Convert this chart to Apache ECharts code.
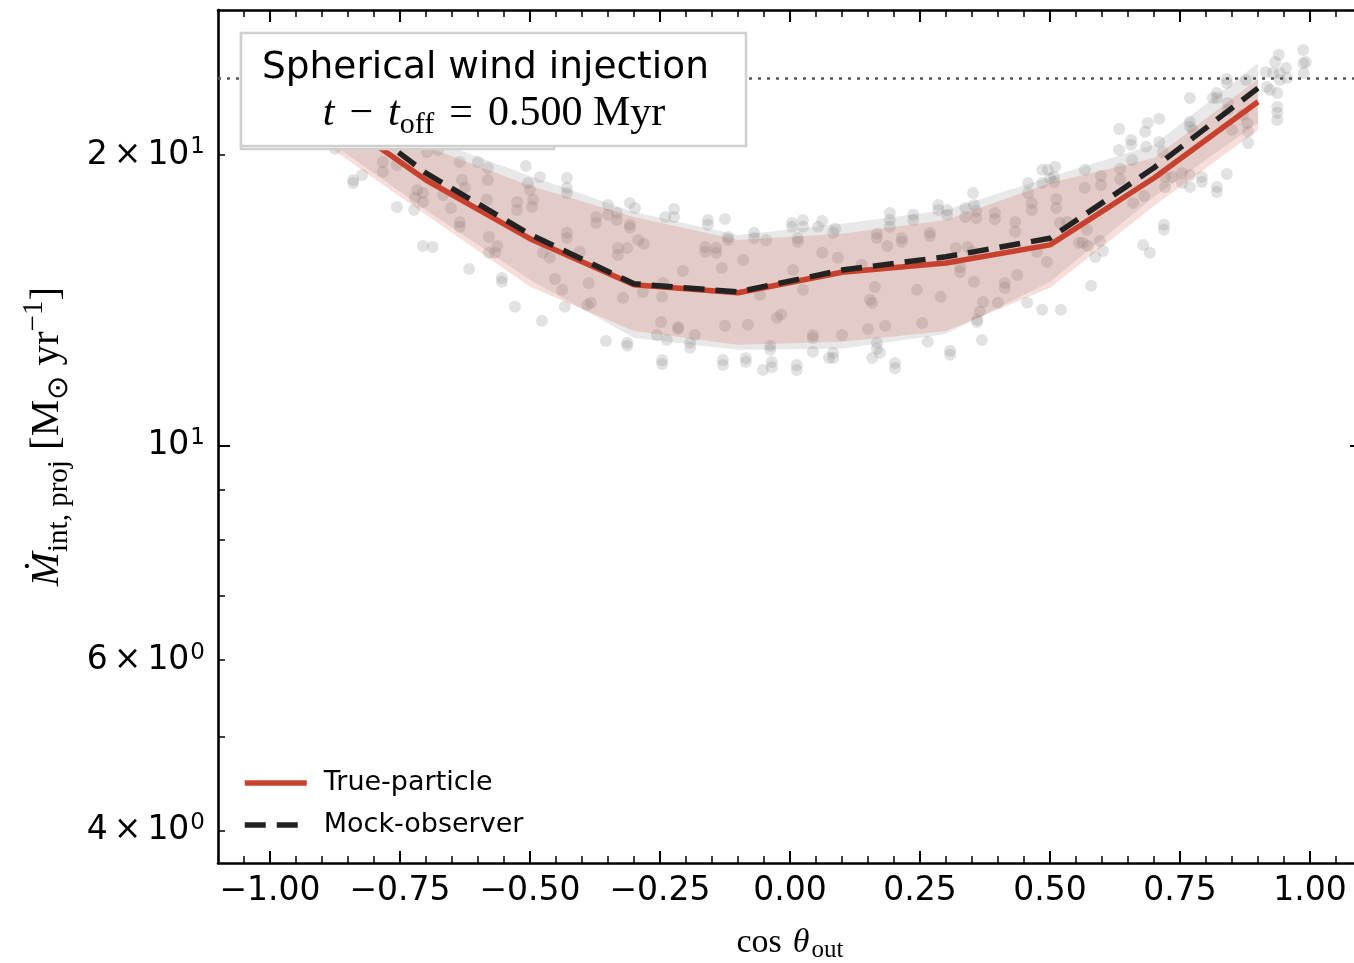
<!DOCTYPE html>
<html><head><meta charset="utf-8">
<script src="https://cdn.jsdelivr.net/npm/echarts@6/dist/echarts.min.js"></script>
<style>html,body{margin:0;padding:0;background:#fff}#c{width:1354px;height:963px}</style>
</head><body><div id="c"></div>
<script>
// ---------- data ----------
const binCenters = [-0.9, -0.7, -0.5, -0.3, -0.1, 0.1, 0.3, 0.5, 0.7, 0.9];
const trueMedian = [22.4, 18.84, 16.38, 14.68, 14.40, 15.12, 15.46, 16.14, 18.93, 22.7];
const mockMedian = [23.1, 19.15, 16.55, 14.71, 14.43, 15.20, 15.69, 16.40, 19.40, 23.45];
const trueLower  = [20.63, 17.34, 14.61, 13.15, 12.72, 12.81, 13.15, 14.57, 17.71, 21.23];
const trueUpper  = [23.6, 20.4, 18.58, 17.25, 16.33, 16.57, 17.13, 18.71, 19.85, 23.97];
const mockLower  = [20.9, 17.54, 14.85, 12.93, 12.57, 12.60, 13.05, 14.78, 18.10, 21.59];
const mockUpper  = [24.49, 20.83, 19.02, 17.46, 16.53, 16.97, 17.54, 18.98, 20.49, 24.90];
const referenceLevel = 24.0;

const sampleCos = [
 -0.875,-0.840,-0.823,-0.840,-0.783,-0.783,-0.756,-0.756,-0.723,-0.717,-0.706,-0.721,-0.706,-0.698,-0.677,-0.667,-0.652,-0.635,-0.631,-0.625,
 -0.706,-0.687,-0.635,-0.635,-0.617,-0.600,-0.581,-0.581,-0.583,-0.579,-0.579,-0.563,-0.567,-0.554,-0.554,-0.529,-0.525,-0.525,-0.508,-0.504,
 -0.500,-0.494,-0.496,-0.481,-0.477,-0.475,-0.462,-0.452,-0.438,-0.433,-0.429,-0.429,-0.429,-0.429,-0.429,
 -0.404,-0.373,-0.373,-0.350,-0.350,-0.387,-0.390,-0.383,-0.354,-0.333,-0.333,-0.331,-0.331,-0.313,-0.321,-0.313,-0.313,-0.308,-0.298,-0.308,
 -0.308,-0.292,-0.281,-0.283,-0.248,-0.256,-0.237,-0.246,-0.244,-0.240,-0.223,-0.223,-0.215,-0.215,-0.206,-0.192,-0.192,-0.183,-0.246,-0.246,
 -0.163,-0.163,-0.142,-0.142,-0.158,-0.158,-0.125,-0.131,-0.119,-0.119,-0.125,-0.129,-0.129,-0.090,-0.081,-0.085,-0.085,-0.069,-0.069,-0.046,
 -0.058,-0.052,-0.035,-0.035,-0.038,-0.038,-0.025,-0.017,0.004,0.004,0.025,0.025,0.015,0.015,0.006,0.025,0.013,0.013,0.044,0.044,
 0.044,0.054,0.062,0.062,0.075,
 0.087,0.083,0.092,0.100,0.083,0.083,0.138,0.154,0.158,0.150,0.163,0.167,0.167,0.167,0.167,0.173,0.158,0.183,0.187,0.192,
 0.192,0.192,0.202,0.202,0.215,0.215,0.237,0.237,0.244,0.254,0.265,0.269,0.269,0.285,0.285,0.290,0.302,0.302,0.308,0.308,
 0.319,0.327,0.327,0.337,0.337,0.342,0.350,0.352,0.354,0.358,0.358,0.354,0.360,0.360,0.371,0.365,0.369,0.394,0.394,0.400,
 0.413,0.413,0.433,0.433,0.437,0.456,0.458,0.458,0.465,0.465,0.475,0.485,0.485,0.496,0.500,0.510,0.508,0.508,0.485,0.494,
 0.512,0.512,0.519,0.521,0.533,0.556,
 0.567,0.567,0.571,0.563,0.573,0.587,0.579,0.598,0.598,0.596,0.602,0.633,0.633,0.635,0.635,0.656,0.656,0.658,0.660,0.679,
 0.692,0.683,0.688,0.685,0.681,0.710,0.710,0.717,0.721,0.721,0.719,0.719,0.735,0.754,0.754,0.769,0.769,0.769,0.775,0.769,
 0.769,0.792,0.792,0.813,0.821,0.821,0.821,0.821,0.840,0.840,0.840,0.842,0.842,0.850,0.877,0.871,0.879,0.881,0.881,0.915,
 0.917,0.929,0.933,0.940,0.942,0.942,0.923,0.937,0.937,0.937,0.937,0.954,0.956,0.987,0.987,0.988,0.992
];
const sampleMdot = [
 20.29,18.84,19.07,18.71,19.67,19.21,19.53,17.67,17.54,18.40,18.27,18.06,17.88,20.14,20.24,18.18,17.62,19.67,18.84,18.49,
 16.10,16.06,17.05,16.85,15.24,19.67,19.39,18.84,17.97,16.45,15.84,16.10,15.84,14.92,14.78,13.93,17.88,17.54,19.48,18.71,
 18.40,17.97,17.67,18.98,13.47,15.84,15.65,14.88,14.50,13.93,18.93,18.49,18.27,16.61,16.41,
 15.88,17.25,17.01,17.75,17.34,14.74,13.99,14.06,12.84,17.42,17.13,16.02,15.76,16.02,14.23,12.78,12.69,17.84,17.62,16.93,
 16.81,16.33,16.18,14.43,13.43,13.02,12.87,14.26,14.74,17.25,17.58,17.25,13.27,13.21,15.17,12.78,12.63,13.02,12.27,12.15,
 16.06,15.88,16.02,15.84,17.13,16.93,17.17,15.28,16.45,16.33,13.31,12.27,12.12,15.57,13.34,12.33,12.21,16.61,16.41,16.33,
 14.33,11.98,12.21,12.06,12.69,12.57,13.57,13.67,17.01,16.85,17.13,16.85,16.41,16.26,15.20,14.50,12.12,11.98,13.02,12.93,
 12.51,16.85,17.09,15.84,12.33,
 16.77,16.61,15.65,13.02,12.48,12.33,15.39,14.16,14.06,13.21,14.60,16.57,16.41,12.78,12.60,12.48,12.33,13.31,16.10,17.42,
 17.13,16.85,12.18,12.03,16.41,16.26,17.34,17.13,14.50,13.40,12.81,16.61,16.49,17.75,17.54,14.26,17.54,17.34,12.54,12.42,
 16.02,15.31,15.13,17.62,17.25,16.06,15.88,18.27,17.75,17.50,17.21,14.78,13.50,13.43,14.09,13.76,12.87,17.42,17.17,14.06,
 14.74,14.57,17.05,16.65,15.02,14.06,18.71,18.27,17.84,17.54,15.88,19.30,18.71,19.30,18.93,19.44,18.98,18.75,13.83,15.50,
 18.01,17.62,17.01,13.83,17.05,16.22,
 19.30,18.49,16.73,16.22,16.10,15.68,14.64,19.02,18.62,16.29,15.91,21.28,20.24,19.35,18.89,20.73,20.49,19.76,17.84,16.14,
 15.84,21.13,21.58,20.39,18.14,21.80,20.63,20.14,18.98,18.53,16.93,16.73,18.98,19.16,18.71,22.91,21.64,21.39,21.23,19.07,
 18.53,18.98,18.75,22.91,23.18,22.91,18.53,18.31,23.97,23.74,19.11,22.64,22.27,21.23,23.91,22.01,21.58,21.13,20.58,24.37,
 23.51,24.31,24.96,25.39,24.31,23.91,23.35,23.18,22.42,22.11,21.74,24.61,24.02,25.68,24.90,24.31,24.96
];

const xMajorTicks = [-1, -0.75, -0.5, -0.25, 0, 0.25, 0.5, 0.75, 1];
const xTickLabels = ['\u22121.00', '\u22120.75', '\u22120.50', '\u22120.25', '0.00', '0.25', '0.50', '0.75', '1.00'];
const xMinorTicks = [-1.05,-0.95,-0.9,-0.85,-0.8,-0.7,-0.65,-0.6,-0.55,-0.45,-0.4,-0.35,-0.3,-0.2,-0.15,-0.1,-0.05,
                     0.05,0.1,0.15,0.2,0.3,0.35,0.4,0.45,0.55,0.6,0.65,0.7,0.8,0.85,0.9,0.95,1.05];
const yMajorTicks = [10];
const yMinorTicks = [4, 5, 6, 7, 8, 9, 20];
const yLabelTicks = [4, 6, 10, 20];
const yLabelMantissa = ['4', '6', '', '2'];
const yLabelExponent = ['0', '0', '1', '1'];

const X_MIN = -1.1, X_MAX = 1.1, Y_MIN = 3.7, Y_MAX = 28.25;

// ---------- chart ----------
const chart = echarts.init(document.getElementById('c'), null, {renderer: 'canvas'});
const sans = 'DejaVu Sans';
const serif = 'Liberation Serif';

function findIndex(vals, v) {
  for (let i = 0; i < vals.length; i++) {
    if (Math.abs(v - vals[i]) <= 1e-6 * Math.max(1, Math.abs(vals[i]))) return i;
  }
  return -1;
}
function xLabelFormatter(v) {
  const i = findIndex(xMajorTicks, v);
  return i < 0 ? '' : xTickLabels[i];
}
function yLabelFormatter(v) {
  const i = findIndex(yLabelTicks, v);
  if (i < 0) return '';
  const m = yLabelMantissa[i];
  return (m ? '{b|' + m + '}{m|\u00d7}' : '') + '{b|10}{p|' + yLabelExponent[i] + '}';
}

function xAxisDef(pos, ticks, len, withLabels, showLine) {
  return {
    type: 'value', position: pos, min: X_MIN, max: X_MAX, gridIndex: 0,
    axisLine: {show: showLine, onZero: false, lineStyle: {color: '#000', width: 2.6}},
    axisTick: {show: true, inside: true, length: len, customValues: ticks, lineStyle: {color: '#000', width: len > 8 ? 2 : 1.5}},
    axisLabel: withLabels ? {show: true, customValues: xMajorTicks, formatter: xLabelFormatter,
      fontFamily: sans, fontSize: 33, color: '#000', margin: 12} : {show: false},
    splitLine: {show: false}
  };
}
function yAxisDef(pos, ticks, len, withLabels, showLine) {
  return {
    type: 'log', logBase: 10, position: pos, min: Y_MIN, max: Y_MAX, gridIndex: 0,
    axisLine: {show: showLine, onZero: false, lineStyle: {color: '#000', width: 2.6}},
    axisTick: {show: true, inside: true, length: len, customValues: ticks, lineStyle: {color: '#000', width: len > 8 ? 2 : 1.5}},
    axisLabel: withLabels ? {show: true, customValues: yLabelTicks, formatter: yLabelFormatter,
      fontFamily: sans, fontSize: 33, color: '#000', margin: 13,
      rich: {
        b: {fontFamily: sans, fontSize: 33, color: '#000', lineHeight: 38, verticalAlign: 'middle'},
        m: {fontFamily: sans, fontSize: 33, color: '#000', lineHeight: 38, verticalAlign: 'middle', padding: [0, 6, 0, 6]},
        p: {fontFamily: sans, fontSize: 23, color: '#000', lineHeight: 38, verticalAlign: 'top', padding: [0, 0, 0, 1]}
      }} : {show: false},
    splitLine: {show: false}, minorTick: {show: false}
  };
}

const xAxes = [
  xAxisDef('bottom', xMajorTicks, 12, true, true),
  xAxisDef('bottom', xMinorTicks, 7, false, false),
  xAxisDef('top', xMajorTicks, 12, false, true),
  xAxisDef('top', xMinorTicks, 7, false, false)
];
xAxes[0].name = '{n|cos}{i|\u03b8}{s|out}';
xAxes[0].nameLocation = 'middle';
xAxes[0].nameGap = 60;
xAxes[0].nameTextStyle = {
  color: '#000', fontFamily: serif, fontSize: 34,
  rich: {
    n: {fontFamily: serif, fontSize: 34, color: '#000', lineHeight: 40, verticalAlign: 'middle', padding: [0, 11, 0, 0]},
    i: {fontFamily: serif, fontStyle: 'italic', fontSize: 34, color: '#000', lineHeight: 40, verticalAlign: 'middle'},
    s: {fontFamily: serif, fontSize: 25, color: '#000', lineHeight: 40, verticalAlign: 'bottom', padding: [0, 0, 0, 2]}
  }
};

const yAxes = [
  yAxisDef('left', yMajorTicks, 12, true, true),
  yAxisDef('left', yMinorTicks, 7, false, false),
  yAxisDef('right', yMajorTicks, 12, false, true),
  yAxisDef('right', yMinorTicks, 7, false, false)
];
yAxes[0].name = '{i|\u1e40}{s|int, proj}{n| [M}{s|\u2299}{n| yr}{p|\u22121}{n|]}';
yAxes[0].nameLocation = 'middle';
yAxes[0].nameRotate = 90;
yAxes[0].nameGap = 144;
yAxes[0].nameTextStyle = {
  color: '#000', fontFamily: serif, fontSize: 41,
  rich: {
    n: {fontFamily: serif, fontSize: 41, color: '#000', lineHeight: 54, verticalAlign: 'middle'},
    i: {fontFamily: serif, fontStyle: 'italic', fontSize: 41, color: '#000', lineHeight: 54, verticalAlign: 'middle'},
    s: {fontFamily: serif, fontSize: 29, color: '#000', lineHeight: 54, verticalAlign: 'bottom'},
    p: {fontFamily: serif, fontSize: 29, color: '#000', lineHeight: 54, verticalAlign: 'top'}
  }
};

function bandSeries(name, lower, upper, color, z) {
  return {
    type: 'custom', name: name, silent: true, z: z, clip: true,
    xAxisIndex: 0, yAxisIndex: 0,
    data: binCenters.map((x, i) => [x, lower[i], upper[i]]),
    encode: {x: 0, y: [1, 2]},
    renderItem: function (params, api) {
      if (params.dataIndex !== 0) return null;
      const pts = [];
      for (let i = 0; i < binCenters.length; i++) pts.push(api.coord([binCenters[i], upper[i]]));
      for (let i = binCenters.length - 1; i >= 0; i--) pts.push(api.coord([binCenters[i], lower[i]]));
      return {type: 'polygon', shape: {points: pts}, style: {fill: color}};
    }
  };
}

const option = {
  backgroundColor: '#fff',
  animation: false,
  grid: {left: 218, right: -8, top: 10, bottom: 100, containLabel: false, outerBoundsMode: 'none'},
  xAxis: xAxes,
  yAxis: yAxes,
  legend: {
    orient: 'vertical', left: 242, top: 767, padding: 0,
    itemWidth: 62, itemHeight: 14, itemGap: 10,
    data: ['True-particle', 'Mock-observer'],
    textStyle: {fontFamily: sans, fontSize: 27, color: '#000', lineHeight: 32, padding: [0, 0, 0, 12]},
    lineStyle: {width: 5.5},
    itemStyle: {opacity: 0},
    selectedMode: false
  },
  series: [
    {
      type: 'scatter', name: 'samples', z: 1, silent: true,
      data: sampleCos.map((x, i) => [x, sampleMdot[i]]),
      symbol: 'circle', symbolSize: 12,
      itemStyle: {color: 'rgba(135,135,135,0.3)'}
    },
    bandSeries('mockBand', mockLower, mockUpper, 'rgba(128,128,128,0.18)', 2),
    bandSeries('trueBand', trueLower, trueUpper, 'rgba(200,57,43,0.17)', 3),
    {
      type: 'line', name: 'True-particle', z: 4,
      data: binCenters.map((x, i) => [x, trueMedian[i]]),
      symbol: 'none', showSymbol: false, smooth: false,
      lineStyle: {color: '#c8412f', width: 5.5},
      itemStyle: {color: '#c8412f'},
      markLine: {
        silent: true, symbol: ['none', 'none'], label: {show: false},
        lineStyle: {color: '#555', type: [3, 6], width: 2.6},
        data: [{yAxis: referenceLevel}]
      }
    },
    {
      type: 'line', name: 'Mock-observer', z: 5,
      data: binCenters.map((x, i) => [x, mockMedian[i]]),
      symbol: 'none', showSymbol: false, smooth: false,
      lineStyle: {color: '#222', width: 5.5, type: [21, 11], cap: 'butt'},
      itemStyle: {color: '#222'}
    }
  ],
  graphic: [
    {type: 'rect', z: 100, shape: {x: 241, y: 35, width: 313, height: 114},
     style: {fill: '#fff', stroke: '#cfcfcf', lineWidth: 2.5}},
    {type: 'rect', z: 101, shape: {x: 241, y: 33, width: 505, height: 113},
     style: {fill: '#fff', stroke: '#cfcfcf', lineWidth: 2.5}},
    {type: 'text', z: 102, x: 262, y: 68,
     style: {text: 'Spherical wind injection', fontFamily: sans, fontSize: 37.5, fill: '#000',
             textAlign: 'left', textVerticalAlign: 'middle'}},
    {type: 'text', z: 102, x: 494, y: 114,
     style: {
       text: '{i|t}{o|\u2212}{i|t}{s|off}{o|=}{n|0.500 Myr}',
       textAlign: 'center', textVerticalAlign: 'middle', fontFamily: serif, fontSize: 42, fill: '#000',
       rich: {
         n: {fontFamily: serif, fontSize: 42, fill: '#000', lineHeight: 52, verticalAlign: 'middle'},
         o: {fontFamily: serif, fontSize: 42, fill: '#000', lineHeight: 52, verticalAlign: 'middle', padding: [0, 15, 0, 15]},
         i: {fontFamily: serif, fontStyle: 'italic', fontSize: 42, fill: '#000', lineHeight: 52, verticalAlign: 'middle'},
         s: {fontFamily: serif, fontSize: 30, fill: '#000', lineHeight: 52, verticalAlign: 'bottom'}
       }
     }}
  ]
};
chart.setOption(option);
</script>
</body></html>
